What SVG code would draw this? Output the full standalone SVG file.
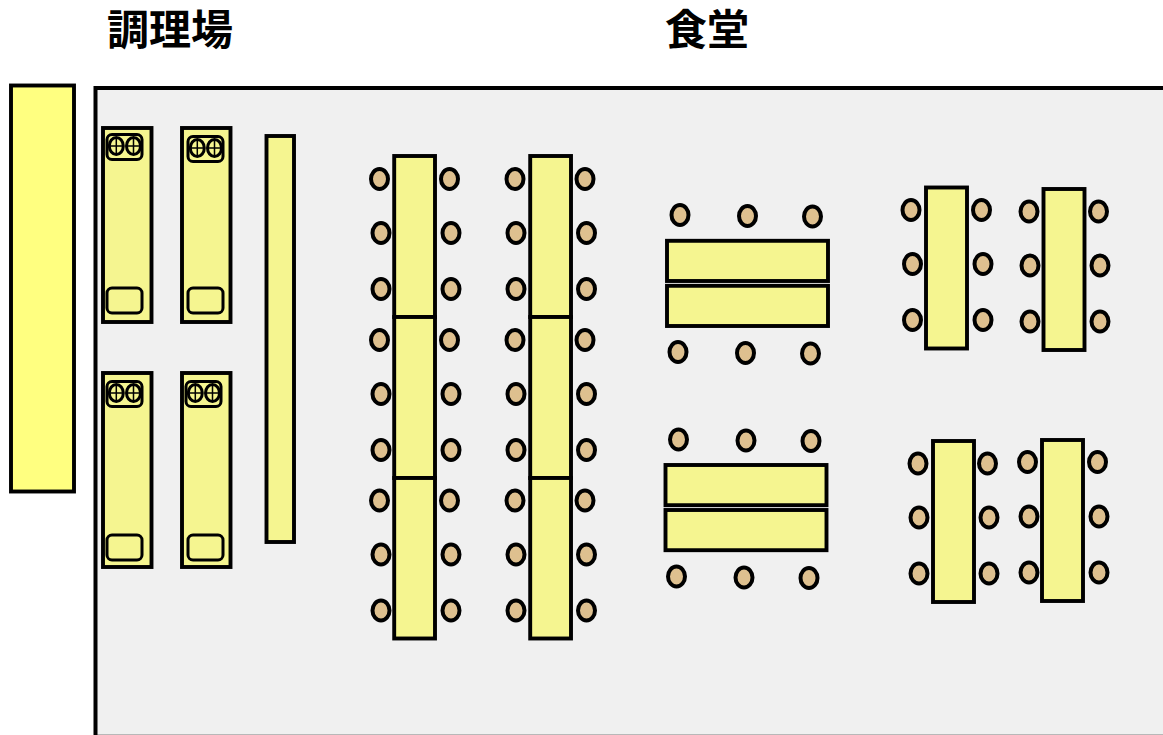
<svg xmlns="http://www.w3.org/2000/svg" width="1163" height="735" viewBox="0 0 1163 735">
<style>
.t{font-family:"Liberation Sans","Noto Sans CJK JP","Noto Sans CJK SC",sans-serif;font-size:42px;font-weight:700;fill:#000}
.b{fill:#f5f590;stroke:#000;stroke-width:3.9}
.y{fill:#ffff80;stroke:#000;stroke-width:3.9}
.f{fill:#f0f0f0;stroke:none}
.l{fill:none;stroke:#000;stroke-width:4}
.c{fill:#dec08f;stroke:#000;stroke-width:4}
.s{fill:none;stroke:#000;stroke-width:3}
.h{fill:none;stroke:#000;stroke-width:1.5}
.e{fill:none;stroke:#b8b8b8;stroke-width:1}
</style>
<defs>
<g id="burners">
<rect class="s" x="0" y="0" width="35" height="25" rx="5"/>
<ellipse class="s" cx="9.300" cy="11.500" rx="7" ry="8.500"/>
<ellipse class="s" cx="26.500" cy="11.500" rx="7" ry="8.500"/>
<path class="h" d="M2.300 11.500H16.300M9.300 3V20M19.500 11.500H33.500M26.500 3V20"/>
</g>
</defs>
<g id="room">
<rect class="f" x="96" y="88" width="1067" height="647"/>
<path class="e" d="M97 734.500H1163"/>
<path class="l" d="M95.500 735V88H1163"/>
</g>
<g id="labels">
<text class="t" x="107" y="45">調理場</text>
<text class="t" x="665" y="45">食堂</text>
</g>
<g id="counter-left"><rect class="y" x="11" y="85.500" width="63" height="406"/></g>
<g id="kitchen">
<g id="unit-1"><rect class="b" x="103" y="128" width="48.500" height="194"/><use href="#burners" x="107" y="134.500"/><rect class="s" x="107" y="288" width="35" height="25" rx="5"/></g>
<g id="unit-2"><rect class="b" x="182" y="128" width="48.500" height="194"/><use href="#burners" x="188" y="136.500"/><rect class="s" x="188" y="288" width="35" height="25" rx="5"/></g>
<g id="unit-3"><rect class="b" x="103" y="373" width="48.500" height="194"/><use href="#burners" x="107" y="381.500"/><rect class="s" x="107" y="535" width="35" height="25" rx="5"/></g>
<g id="unit-4"><rect class="b" x="182" y="373" width="48.500" height="194"/><use href="#burners" x="186" y="381.500"/><rect class="s" x="188" y="535" width="35" height="25" rx="5"/></g>
<g id="long-counter"><rect class="b" x="266.500" y="136" width="27.500" height="406"/></g>
</g>
<g id="long-tables">
<g id="col-1">
<rect class="b" x="394.200" y="156" width="40.800" height="161"/><rect class="b" x="394.200" y="317" width="40.800" height="161"/><rect class="b" x="394.200" y="478" width="40.800" height="160.500"/>
<ellipse class="c" cx="379.500" cy="179" rx="8.500" ry="10"/><ellipse class="c" cx="449.500" cy="179" rx="8.500" ry="10"/>
<ellipse class="c" cx="381" cy="233" rx="8.500" ry="10"/><ellipse class="c" cx="451" cy="233" rx="8.500" ry="10"/>
<ellipse class="c" cx="381" cy="289" rx="8.500" ry="10"/><ellipse class="c" cx="451" cy="289" rx="8.500" ry="10"/>
<ellipse class="c" cx="379.500" cy="340" rx="8.500" ry="10"/><ellipse class="c" cx="449.500" cy="340" rx="8.500" ry="10"/>
<ellipse class="c" cx="381" cy="394" rx="8.500" ry="10"/><ellipse class="c" cx="451" cy="394" rx="8.500" ry="10"/>
<ellipse class="c" cx="381" cy="450" rx="8.500" ry="10"/><ellipse class="c" cx="451" cy="450" rx="8.500" ry="10"/>
<ellipse class="c" cx="379.500" cy="500.500" rx="8.500" ry="10"/><ellipse class="c" cx="449.500" cy="500.500" rx="8.500" ry="10"/>
<ellipse class="c" cx="381" cy="554.500" rx="8.500" ry="10"/><ellipse class="c" cx="451" cy="554.500" rx="8.500" ry="10"/>
<ellipse class="c" cx="381" cy="610.500" rx="8.500" ry="10"/><ellipse class="c" cx="451" cy="610.500" rx="8.500" ry="10"/>
</g>
<g id="col-2">
<rect class="b" x="530.200" y="156" width="40.800" height="161"/><rect class="b" x="530.200" y="317" width="40.800" height="161"/><rect class="b" x="530.200" y="478" width="40.800" height="160.500"/>
<ellipse class="c" cx="515" cy="179" rx="8.500" ry="10"/><ellipse class="c" cx="585" cy="179" rx="8.500" ry="10"/>
<ellipse class="c" cx="516" cy="233" rx="8.500" ry="10"/><ellipse class="c" cx="586.500" cy="233" rx="8.500" ry="10"/>
<ellipse class="c" cx="516" cy="289" rx="8.500" ry="10"/><ellipse class="c" cx="586.500" cy="289" rx="8.500" ry="10"/>
<ellipse class="c" cx="515" cy="340" rx="8.500" ry="10"/><ellipse class="c" cx="585" cy="340" rx="8.500" ry="10"/>
<ellipse class="c" cx="516" cy="394" rx="8.500" ry="10"/><ellipse class="c" cx="586.500" cy="394" rx="8.500" ry="10"/>
<ellipse class="c" cx="516" cy="450" rx="8.500" ry="10"/><ellipse class="c" cx="586.500" cy="450" rx="8.500" ry="10"/>
<ellipse class="c" cx="515" cy="500.500" rx="8.500" ry="10"/><ellipse class="c" cx="585" cy="500.500" rx="8.500" ry="10"/>
<ellipse class="c" cx="516" cy="554.500" rx="8.500" ry="10"/><ellipse class="c" cx="586.500" cy="554.500" rx="8.500" ry="10"/>
<ellipse class="c" cx="516" cy="610.500" rx="8.500" ry="10"/><ellipse class="c" cx="586.500" cy="610.500" rx="8.500" ry="10"/>
</g>
</g>
<g id="wide-tables">
<g id="wide-1">
<rect class="b" x="667" y="240.800" width="161" height="40.200"/><rect class="b" x="667" y="285.800" width="161" height="40.200"/>
<ellipse class="c" cx="680" cy="215" rx="8.500" ry="10"/><ellipse class="c" cx="747.500" cy="216" rx="8.500" ry="10"/><ellipse class="c" cx="812.500" cy="216.500" rx="8.500" ry="10"/>
<ellipse class="c" cx="678" cy="352" rx="8.500" ry="10"/><ellipse class="c" cx="745.500" cy="353" rx="8.500" ry="10"/><ellipse class="c" cx="810.500" cy="353.500" rx="8.500" ry="10"/>
</g>
<g id="wide-2">
<rect class="b" x="665.500" y="465" width="161" height="40.200"/><rect class="b" x="665.500" y="510" width="161" height="40.200"/>
<ellipse class="c" cx="678.500" cy="439.500" rx="8.500" ry="10"/><ellipse class="c" cx="746" cy="440.500" rx="8.500" ry="10"/><ellipse class="c" cx="811" cy="441" rx="8.500" ry="10"/>
<ellipse class="c" cx="676.500" cy="576.500" rx="8.500" ry="10"/><ellipse class="c" cx="744" cy="577.500" rx="8.500" ry="10"/><ellipse class="c" cx="809" cy="578" rx="8.500" ry="10"/>
</g>
</g>
<g id="short-tables">
<g id="short-1"><rect class="b" x="926" y="187.500" width="41" height="161"/>
<ellipse class="c" cx="911" cy="210" rx="8.500" ry="10"/><ellipse class="c" cx="981.500" cy="210" rx="8.500" ry="10"/>
<ellipse class="c" cx="912.500" cy="264" rx="8.500" ry="10"/><ellipse class="c" cx="983" cy="264" rx="8.500" ry="10"/>
<ellipse class="c" cx="912.500" cy="320" rx="8.500" ry="10"/><ellipse class="c" cx="983" cy="320" rx="8.500" ry="10"/></g>
<g id="short-2"><rect class="b" x="1043.500" y="189" width="41" height="161"/>
<ellipse class="c" cx="1029" cy="211.500" rx="8.500" ry="10"/><ellipse class="c" cx="1098.500" cy="211.500" rx="8.500" ry="10"/>
<ellipse class="c" cx="1030" cy="265.500" rx="8.500" ry="10"/><ellipse class="c" cx="1100" cy="265.500" rx="8.500" ry="10"/>
<ellipse class="c" cx="1030" cy="321.500" rx="8.500" ry="10"/><ellipse class="c" cx="1100" cy="321.500" rx="8.500" ry="10"/></g>
<g id="short-3"><rect class="b" x="933" y="441" width="41" height="161"/>
<ellipse class="c" cx="918" cy="463.500" rx="8.500" ry="10"/><ellipse class="c" cx="987.500" cy="463.500" rx="8.500" ry="10"/>
<ellipse class="c" cx="919" cy="517.500" rx="8.500" ry="10"/><ellipse class="c" cx="989" cy="517.500" rx="8.500" ry="10"/>
<ellipse class="c" cx="919" cy="573.500" rx="8.500" ry="10"/><ellipse class="c" cx="989" cy="573.500" rx="8.500" ry="10"/></g>
<g id="short-4"><rect class="b" x="1042" y="440" width="41" height="161"/>
<ellipse class="c" cx="1027.500" cy="462" rx="8.500" ry="10"/><ellipse class="c" cx="1097.500" cy="462" rx="8.500" ry="10"/>
<ellipse class="c" cx="1029" cy="516.500" rx="8.500" ry="10"/><ellipse class="c" cx="1099" cy="516.500" rx="8.500" ry="10"/>
<ellipse class="c" cx="1029" cy="572.500" rx="8.500" ry="10"/><ellipse class="c" cx="1099" cy="572.500" rx="8.500" ry="10"/></g>
</g>
</svg>
